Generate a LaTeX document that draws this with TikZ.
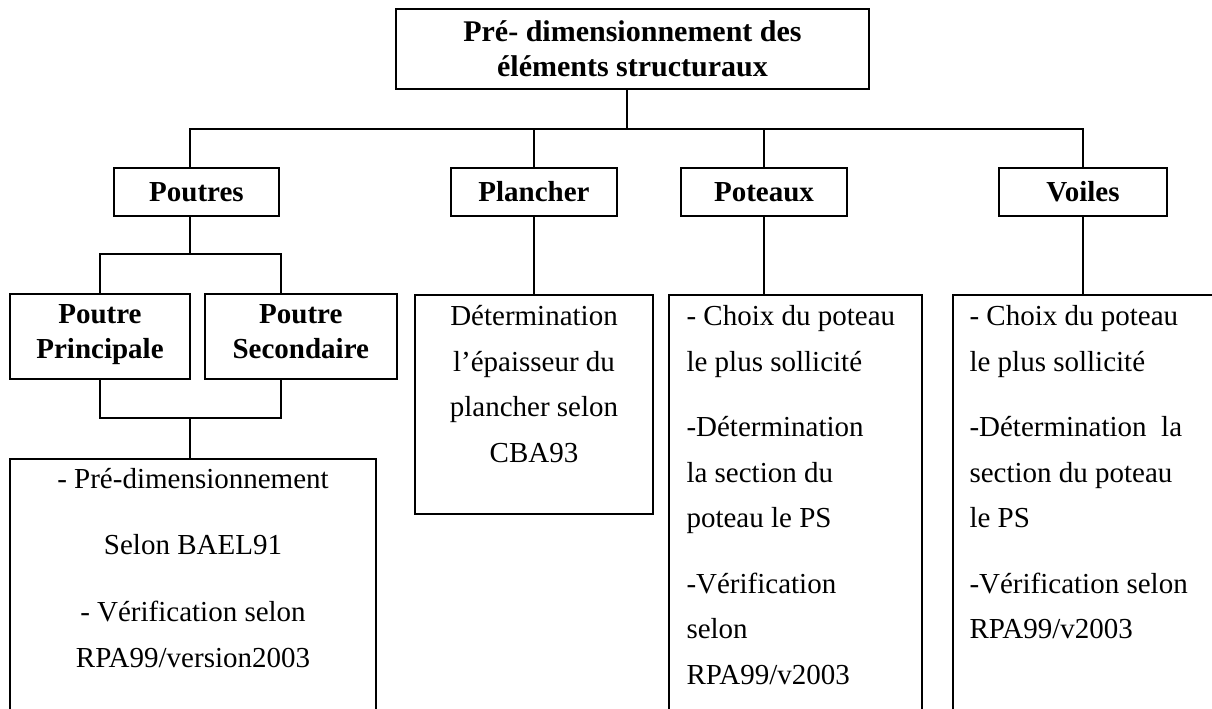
\documentclass[tikz,border=0pt]{standalone}
\usepackage{fontspec}
\setmainfont{Liberation Serif}
\usetikzlibrary{positioning}

\tikzset{
  box/.style={draw, line width=0.9pt, align=center, inner sep=0pt,
    font=\fontsize{14.5}{17.5}\selectfont\bfseries},
  twoline/.style={box, execute at begin node={\strut}, execute at end node={\strut}},
  panel/.style={draw, line width=0.9pt, inner sep=0pt, anchor=north},
  body/.style={inner sep=0pt, font=\fontsize{14.5}{22.75}\selectfont},
  link/.style={line width=0.9pt}
}

\begin{document}
\begin{tikzpicture}[x=0.5pt, y=-0.5pt]
\useasboundingbox (0,0) rectangle (1212,708);
\clip (0,0) rectangle (1212,708);

% titre
\node[box, minimum width=236.5pt, minimum height=40pt,
  font=\fontsize{15}{17.5}\selectfont\bfseries] (titre) at (632.5,49)
  {Pré- dimensionnement des\\éléments structuraux};
\coordinate (bus) at (627,129);

% elements
\node[box, minimum width=82.5pt, minimum height=24pt] (poutres) at (196.5,192) {Poutres};
\node[box, minimum width=83pt, minimum height=24pt] (plancher) at (534,192) {Plancher};
\node[box, minimum width=83pt, minimum height=24pt] (poteaux) at (764,192) {Poteaux};
\node[box, minimum width=84pt, minimum height=24pt] (voiles) at (1083,192) {Voiles};

% poutres
\node[twoline, minimum width=90pt, minimum height=42.5pt] (pprinc) at (100,336.5) {Poutre\\Principale};
\node[twoline, minimum width=96pt, minimum height=42.5pt, right=6.5pt of pprinc] (psec) {Poutre\\Secondaire};
\coordinate (pjoin) at (190,254);
\coordinate (bjoin) at (190,418);

\draw[link] (titre.south -| bus) -- (bus);
\draw[link] (poutres.north -| pjoin) |- (bus) -| (voiles);
\draw[link] (plancher) -- (plancher |- bus);
\draw[link] (poteaux) -- (poteaux |- bus);

\draw[link] (poutres.south -| pjoin) -- (pjoin);
\draw[link] (pprinc) |- (pjoin) -| ([xshift=-10pt]psec.north);
\draw[link] (pprinc) |- (bjoin) -| ([xshift=-10pt]psec.south);

\node[panel, minimum width=183pt, minimum height=160pt] (bael) at (193,458) {};
\draw[link] (bjoin) -- (bjoin |- bael.north);
\node[body, anchor=north, align=center] (baeltxt) at ([yshift=-5pt]bael.north)
  {- Pré-dimensionnement\\[10pt]Selon BAEL91\\[11pt]- Vérification selon\\RPA99/version2003};

% plancher
\node[panel, minimum width=119pt, minimum height=109.5pt] (plancherbox) at (534,294) {};
\draw[link] (plancher.south) -- (plancher.south |- plancherbox.north);
\node[body, anchor=north, align=center] (planchertxt) at ([yshift=-5.5pt]plancherbox.north)
  {Détermination\\l’épaisseur du\\plancher selon\\CBA93};

% poteaux
\node[panel, minimum width=126.5pt, minimum height=220pt] (poteauxbox) at (795.5,294) {};
\draw[link] (poteaux.south) -- (poteaux.south |- poteauxbox.north);
\node[body, anchor=north west, align=left] (poteauxtxt) at ([xshift=9pt,yshift=-5.5pt]poteauxbox.north west)
  {- Choix du poteau\\le plus sollicité\\[10pt]-Détermination\\la section du\\poteau le PS\\[10pt]-Vérification\\selon\\RPA99/v2003};

% voiles
\node[panel, minimum width=136pt, minimum height=220pt] (voilesbox) at (1089,294) {};
\draw[link] (voiles.south) -- (voiles.south |- voilesbox.north);
\node[body, anchor=north west, align=left] (voilestxt) at ([xshift=8.5pt,yshift=-5.5pt]voilesbox.north west)
  {- Choix du poteau\\le plus sollicité\\[10pt]-Détermination~ la\\section du poteau\\le PS\\[10pt]-Vérification selon\\RPA99/v2003};
\end{tikzpicture}
\end{document}
